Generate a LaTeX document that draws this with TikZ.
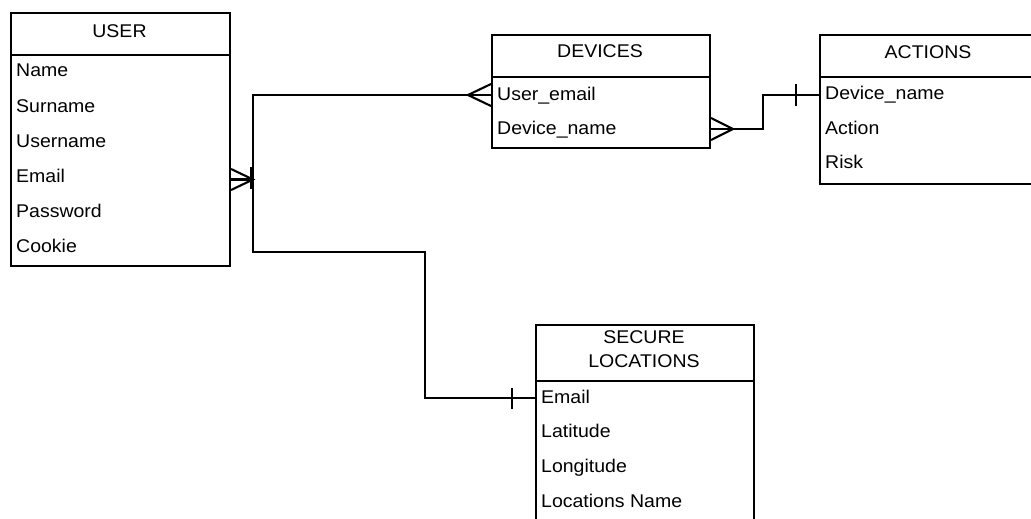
\documentclass[tikz,border=0pt]{standalone}
\usepackage{fontspec}
\setmainfont{Liberation Sans}[FakeStretch=1.06]
\begin{document}
\begin{tikzpicture}[x=1pt,y=-1pt,
  font=\fontsize{18.4}{24}\selectfont,
  entity/.style={draw, line width=2.1pt, inner sep=0pt, anchor=north west},
  divider/.style={line width=2.1pt},
  title/.style={anchor=base, inner sep=0pt},
  field/.style={anchor=base west, inner sep=0pt},
  link/.style={line width=2.1pt},
  foot/.style={line width=2.1pt}]
\useasboundingbox (0,0) rectangle (1031,519);
\clip (0,0) rectangle (1031,519);

% ---------- USER ----------
\node[entity, minimum width=219pt, minimum height=253pt] (user) at (10,12) {};
\draw[divider] (user.west |- 0,55) -- (user.east |- 0,55);
\node[title] (user-title) at (119.5,38) {USER};
\node[field] (user-name)     at (16,77)  {Name};
\node[field] (user-surname)  at (16,112) {Surname};
\node[field] (user-username) at (16,147) {Username};
\node[field] (user-email)    at (16,182) {Email};
\node[field] (user-password) at (16,217) {Password};
\node[field] (user-cookie)   at (16,252) {Cookie};

% ---------- DEVICES ----------
\node[entity, minimum width=218pt, minimum height=113pt] (dev) at (491,34) {};
\draw[divider] (dev.west |- 0,77) -- (dev.east |- 0,77);
\node[title] (dev-title) at (600,58) {DEVICES};
\node[field] (dev-user)   at (497,100) {User\_email};
\node[field] (dev-device) at (497,134) {Device\_name};

% ---------- ACTIONS ----------
\node[entity, minimum width=230pt, minimum height=149pt] (act) at (819,34) {};
\draw[divider] (act.west |- 0,77) -- (act.east |- 0,77);
\node[title] (act-title) at (928,59) {ACTIONS};
\node[field] (act-device) at (825,99.5) {Device\_name};
\node[field] (act-action) at (825,134)  {Action};
\node[field] (act-risk)   at (825,168)  {Risk};

% ---------- SECURE LOCATIONS ----------
\node[entity, minimum width=218pt, minimum height=215pt] (sec) at (535,324) {};
\draw[divider] (sec.west |- 0,381) -- (sec.east |- 0,381);
\node[inner sep=0pt, align=center] (sec-title) at (644,349.5) {SECURE\\LOCATIONS};
\node[field] (sec-email) at (541,403) {Email};
\node[field] (sec-lat)   at (541,437) {Latitude};
\node[field] (sec-lon)   at (541,472) {Longitude};
\node[field] (sec-name)  at (541,507) {Locations Name};

% ---------- connection points ----------
\coordinate (user-port) at (user.east |- 0,179.5);
\coordinate (user-hub)  at (253,179.5);
\coordinate (dev-in)    at (dev.west |- 0,95);
\coordinate (dev-hub-l) at (468,95);
\coordinate (dev-out)   at (dev.east |- 0,129);
\coordinate (dev-hub-r) at (733,129);
\coordinate (dev-bend)  at (763,129);
\coordinate (act-in)    at (act.west |- 0,95);
\coordinate (sec-bend)  at (425,252);
\coordinate (sec-in)    at (sec.west |- 0,398);

% ---------- relationships ----------
\draw[link] (user-port) -- (user-hub) |- (dev-in);
\draw[link] (user-hub) |- (sec-bend) |- (sec-in);
\draw[link] (dev-out) -- (dev-bend) |- (act-in);

% crow's feet (many)
\draw[foot] ([yshift=-10.5pt]user-port) -- (user-hub) -- ([yshift=10.5pt]user-port);
\draw[foot] ([yshift=-11pt]dev-in) -- (dev-hub-l) -- ([yshift=11pt]dev-in);
\draw[foot] ([yshift=-11pt]dev-out) -- (dev-hub-r) -- ([yshift=11pt]dev-out);

% bars (one)
\draw[foot] (251,167) -- (251,189);
\draw[foot] (796,84) -- (796,106);
\draw[foot] (512,388) -- (512,409);
\end{tikzpicture}
\end{document}
